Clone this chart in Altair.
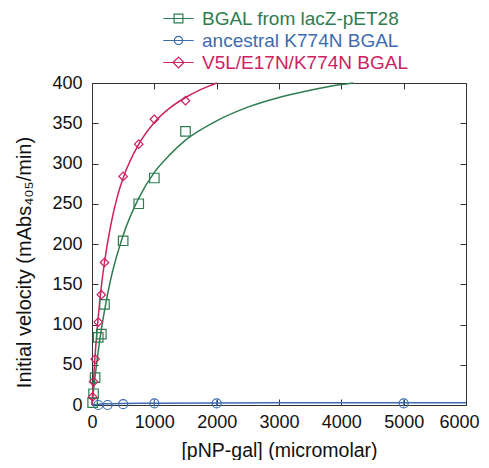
import altair as alt
import pandas as pd

series_names = ["BGAL from lacZ-pET28", "ancestral K774N BGAL", "V5L/E17N/K774N BGAL"]
colors = ["#2e7d50", "#3c6cb0", "#cc2262"]

# measured points
conc = [10, 25, 50, 100, 150, 200, 500, 750, 1000, 1500]
green_v = [3, 14, 34, 84, 88, 125, 204, 250, 282, 340]
magenta_v = [10, 29, 57, 103, 137, 177, 284, 324, 355, 378]
blue_conc = [100, 250, 500, 1000, 2000, 5000]
blue_v = [0, 0, 1, 2, 2, 2]
blue_err = [0, 0, 0, 4, 4, 4]

# fitted curves
green_fit_x = [0, 10, 25, 50, 100, 150, 200, 300, 400, 500, 750, 1000, 1250, 1500, 2000, 2500, 3000, 3500, 4000, 4190]
green_fit_y = [0, 8, 19, 36, 67, 94, 117, 156, 186, 211, 257, 289, 311, 329, 353, 370, 382, 391, 398, 400]
magenta_fit_x = [0, 10, 25, 50, 100, 150, 200, 300, 400, 500, 750, 1000, 1250, 1500, 1750, 2000]
magenta_fit_y = [0, 14, 33, 62, 109, 147, 177, 223, 257, 282, 324, 351, 369, 382, 392, 400]
blue_fit_x = [0, 50, 100, 250, 500, 1000, 2000, 3000, 4000, 5000, 6000]
blue_fit_y = [0, 0.6, 1, 1.6, 2, 2.3, 2.6, 2.7, 2.8, 2.9, 2.9]

x_ticks = [0, 1000, 2000, 3000, 4000, 5000, 6000]
y_ticks = [0, 50, 100, 150, 200, 250, 300, 350, 400]

pts = pd.concat([
    pd.DataFrame({"series": series_names[0], "x": conc, "y": green_v, "err": 0}),
    pd.DataFrame({"series": series_names[1], "x": blue_conc, "y": blue_v, "err": blue_err}),
    pd.DataFrame({"series": series_names[2], "x": conc, "y": magenta_v, "err": 0}),
], ignore_index=True)
pts["lo"] = pts["y"] - pts["err"]
pts["hi"] = pts["y"] + pts["err"]

fits = pd.concat([
    pd.DataFrame({"series": series_names[0], "x": green_fit_x, "y": green_fit_y}),
    pd.DataFrame({"series": series_names[1], "x": blue_fit_x, "y": blue_fit_y}),
    pd.DataFrame({"series": series_names[2], "x": magenta_fit_x, "y": magenta_fit_y}),
], ignore_index=True)

W, H = 374, 322
FONT = "Liberation Sans"
tick_len = 6

xs = alt.Scale(domain=[0, 6000], nice=False)
ys = alt.Scale(domain=[0, 400], nice=False)

x_axis = alt.Axis(values=x_ticks, format="d", labelOverlap=False, labelFlush=False,
                  labelOffset={"condition": {"test": "datum.value == 6000", "value": -7}, "value": 0},
                  title="[pNP-gal] (micromolar)", ticks=False, domain=False,
                  grid=True, gridColor="#333333", gridOpacity=1, gridWidth=1,
                  gridDash=[tick_len, H - 2 * tick_len, tick_len],
                  labelFont=FONT, labelFontSize=18, labelColor="#111111", labelPadding=8,
                  titleFont=FONT, titleFontSize=19.5, titleFontWeight="normal", titleColor="#111111",
                  titleX=187, titleY=55, titleBaseline="bottom")
y_axis = alt.Axis(values=y_ticks, format="d", labelOverlap=False,
                  title="Initial velocity (mAbs₄₀₅/min)", ticks=False, domain=False,
                  grid=True, gridColor="#333333", gridOpacity=1, gridWidth=1,
                  gridDash=[tick_len, W - 2 * tick_len, tick_len],
                  labelFont=FONT, labelFontSize=18, labelColor="#111111", labelPadding=10,
                  titleFont=FONT, titleFontSize=20, titleFontWeight="normal", titleColor="#111111",
                  titleX=-68, titleY=179, titleBaseline="middle", titleAngle=-90, titleAlign="center")

def cscale():
    return alt.Scale(domain=series_names, range=colors)

lines = alt.Chart(fits).mark_line(strokeWidth=1.5, interpolate="monotone").encode(
    x=alt.X("x:Q", scale=xs, axis=x_axis),
    y=alt.Y("y:Q", scale=ys, axis=y_axis),
    color=alt.Color("series:N", scale=cscale(), legend=None),
    detail="series:N",
)

errs = alt.Chart(pts).transform_filter("datum.err > 0").mark_rule(strokeWidth=1.2).encode(
    x="x:Q", y="lo:Q", y2="hi:Q",
    color=alt.Color("series:N", scale=cscale(), legend=None),
)

points = alt.Chart(pts).mark_point(filled=False, strokeWidth=1.2, opacity=1).encode(
    x="x:Q", y="y:Q",
    color=alt.Color("series:N", scale=cscale(), legend=None),
    shape=alt.Shape("series:N", scale=alt.Scale(domain=series_names, range=["square", "circle", "diamond"]), legend=None),
    size=alt.Size("series:N", scale=alt.Scale(domain=series_names, range=[90, 72, 140]), legend=None),
)

label_expr = ("datum.value == '%s' ? '%s' : datum.value == '%s' ? '%s' : '%s'"
              % (series_names[0], colors[0], series_names[1], colors[1], colors[2]))
# symbol box is 16px; the drawn line reaches +-15px from centre
leg = alt.Legend(title=None, orient="none", legendX=77, legendY=-74, padding=0,
                 symbolSize=256, symbolStrokeWidth=1.2, symbolOpacity=1,
                 labelFont=FONT, labelFontSize=19, labelOffset=14, labelLimit=0,
                 labelColor=alt.ExprRef(label_expr), rowPadding=2)
legend_paths = [
    "M-1.9,0H1.9M-0.55,-0.55H0.55V0.55H-0.55Z",
    "M-1.9,0H1.9M-0.52,0a0.52,0.52 0 1,0 1.04,0a0.52,0.52 0 1,0 -1.04,0Z",
    "M-1.9,0H1.9M-0.68,0L0,-0.68L0.68,0L0,0.68Z",
]
legend_layer = alt.Chart(pts).mark_point(filled=False, opacity=0).encode(
    x="x:Q", y="y:Q",
    color=alt.Color("series:N", scale=cscale(), legend=leg),
    shape=alt.Shape("series:N", scale=alt.Scale(domain=series_names, range=legend_paths), legend=leg),
)

chart = alt.layer(lines, errs, points, legend_layer).resolve_scale(
    color="independent", shape="independent", size="independent"
).properties(
    width=W, height=H,
    autosize=alt.AutoSizeParams(type="none"),
    padding={"left": 84, "top": 75, "right": 15, "bottom": 55},
).configure_view(stroke="#333333", strokeWidth=1)

chart.save("out.html", embed_options={"renderer": "svg", "actions": False})
